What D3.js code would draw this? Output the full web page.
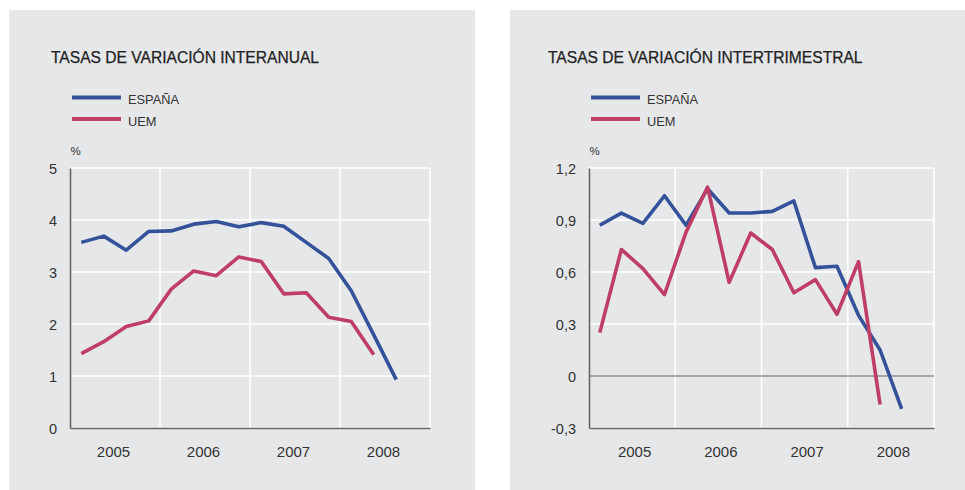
<!DOCTYPE html>
<html>
<head>
<meta charset="utf-8">
<script src="https://cdn.jsdelivr.net/npm/d3@7/dist/d3.min.js"></script>
<style>
  body { margin: 0; background: #fff; }
  text { font-family: "Liberation Sans", Arial, sans-serif; }
</style>
</head>
<body>
<script>
// quarterly data, 2005 Q1 .. 2008 Q3
var years = ["2005", "2006", "2007", "2008"];
var quarters = d3.range(16); // 4 years x 4 quarters

// left: tasas de variacion interanual
var espanaInteranual = [3.57, 3.69, 3.42, 3.78, 3.79, 3.92, 3.97, 3.87, 3.95, 3.88, 3.57, 3.26, 2.64, 1.79, 0.93];
var uemInteranual = [1.43, 1.66, 1.95, 2.06, 2.67, 3.02, 2.93, 3.29, 3.20, 2.58, 2.60, 2.13, 2.05, 1.41];
var ticksInteranual = [0, 1, 2, 3, 4, 5];

// right: tasas de variacion intertrimestral
var espanaIntertrim = [0.87, 0.94, 0.88, 1.04, 0.87, 1.08, 0.94, 0.94, 0.95, 1.01, 0.625, 0.633, 0.35, 0.15, -0.19];
var uemIntertrim = [0.25, 0.73, 0.62, 0.47, 0.83, 1.09, 0.54, 0.825, 0.73, 0.48, 0.556, 0.356, 0.66, -0.165];
var ticksIntertrim = [-0.3, 0, 0.3, 0.6, 0.9, 1.2];

var seriesNames = ["ESPAÑA", "UEM"];
var blue = "#34529a", red = "#bf3e66";

var svg = d3.select("body").append("svg")
    .attr("width", 965)
    .attr("height", 490);

function panel(opt) {
  var g = svg.append("g");

  // gray background
  g.append("rect")
    .attr("x", opt.bx).attr("y", 10)
    .attr("width", opt.bw).attr("height", 480)
    .attr("fill", "#e6e7e9");

  g.append("text")
    .attr("x", opt.tx).attr("y", 63)
    .attr("fill", "#222")
    .style("font-size", "15.6px")
    .attr("stroke", "#222").attr("stroke-width", 0.25)
    .text(opt.title);

  // legend
  var leg = g.selectAll(".leg").data(seriesNames).enter().append("g")
    .attr("transform", function(d, i) { return "translate(" + (opt.px0 + 2) + "," + (97.5 + i * 21.5) + ")"; });
  leg.append("line")
    .attr("x1", 0).attr("x2", 49)
    .attr("stroke", function(d, i) { return i ? red : blue; })
    .attr("stroke-width", 4);
  leg.append("text")
    .attr("x", 56).attr("y", 6.5)
    .attr("fill", "#333")
    .style("font-size", "12.8px")
    .text(function(d) { return d; });

  var x = d3.scaleLinear().domain([0, 16]).range([opt.px0, opt.px1]);
  var y = d3.scaleLinear().domain(opt.domain).range([428, 168]);

  // gridlines
  g.selectAll(".hg").data(opt.ticks).enter().append("line")
    .attr("x1", opt.px0).attr("x2", opt.px1)
    .attr("y1", function(d) { return y(d); }).attr("y2", function(d) { return y(d); })
    .attr("stroke", "#fff").attr("stroke-width", 1.6);
  g.selectAll(".vg").data([4, 8, 12, 16]).enter().append("line")
    .attr("x1", function(d) { return x(d); }).attr("x2", function(d) { return x(d); })
    .attr("y1", 168).attr("y2", 428)
    .attr("stroke", "#fff").attr("stroke-width", 1.6);

  if (opt.zero) {
    g.append("line")
      .attr("x1", opt.px0).attr("x2", opt.px1)
      .attr("y1", y(0)).attr("y2", y(0))
      .attr("stroke", "#555").attr("stroke-width", 1);
  }

  // axes
  var yAxis = d3.axisLeft(y).tickValues(opt.ticks).tickSize(0).tickPadding(13)
    .tickFormat(opt.fmt);
  var ya = g.append("g").attr("transform", "translate(" + opt.px0 + ",0)").call(yAxis);
  ya.select(".domain").attr("stroke", "#666").attr("stroke-width", 1.6);
  ya.selectAll("text").style("font-size", "14.5px").attr("fill", "#333").attr("dy", "0.36em");

  var xAxis = d3.axisBottom(x).tickValues([2, 6, 10, 14]).tickSize(0).tickPadding(18)
    .tickFormat(function(d) { return years[(d - 2) / 4]; });
  var xa = g.append("g").attr("transform", "translate(0,428)").call(xAxis);
  xa.select(".domain").attr("stroke", "#666").attr("stroke-width", 1.6);
  xa.selectAll("text").style("font-size", "15px").attr("fill", "#333")
    .attr("dx", opt.ldx);

  g.append("text")
    .attr("x", opt.px0 + 0.5).attr("y", 155)
    .attr("fill", "#333")
    .style("font-size", "11.5px")
    .text("%");

  var line = d3.line()
    .x(function(d, i) { return x(quarters[i] + 0.5); })
    .y(function(d) { return y(d); });

  g.append("path").datum(opt.espana)
    .attr("d", line).attr("fill", "none")
    .attr("stroke", blue).attr("stroke-width", 3.6)
    .attr("stroke-linejoin", "round");
  g.append("path").datum(opt.uem)
    .attr("d", line).attr("fill", "none")
    .attr("stroke", red).attr("stroke-width", 3.6)
    .attr("stroke-linejoin", "round");
}

panel({
  bx: 9, bw: 466, px0: 70, px1: 430, tx: 51, ldx: -2,
  title: "TASAS DE VARIACIÓN INTERANUAL",
  domain: [0, 5], ticks: ticksInteranual,
  fmt: d3.format("d"),
  espana: espanaInteranual, uem: uemInteranual, zero: false
});

panel({
  bx: 510, bw: 455, px0: 589, px1: 934, tx: 548, ldx: 2,
  title: "TASAS DE VARIACIÓN INTERTRIMESTRAL",
  domain: [-0.3, 1.2], ticks: ticksIntertrim,
  fmt: function(d) { return d === 0 ? "0" : (d < 0 ? "-" : "") + Math.abs(d).toFixed(1).replace(".", ","); },
  espana: espanaIntertrim, uem: uemIntertrim, zero: true
});
</script>
</body>
</html>
